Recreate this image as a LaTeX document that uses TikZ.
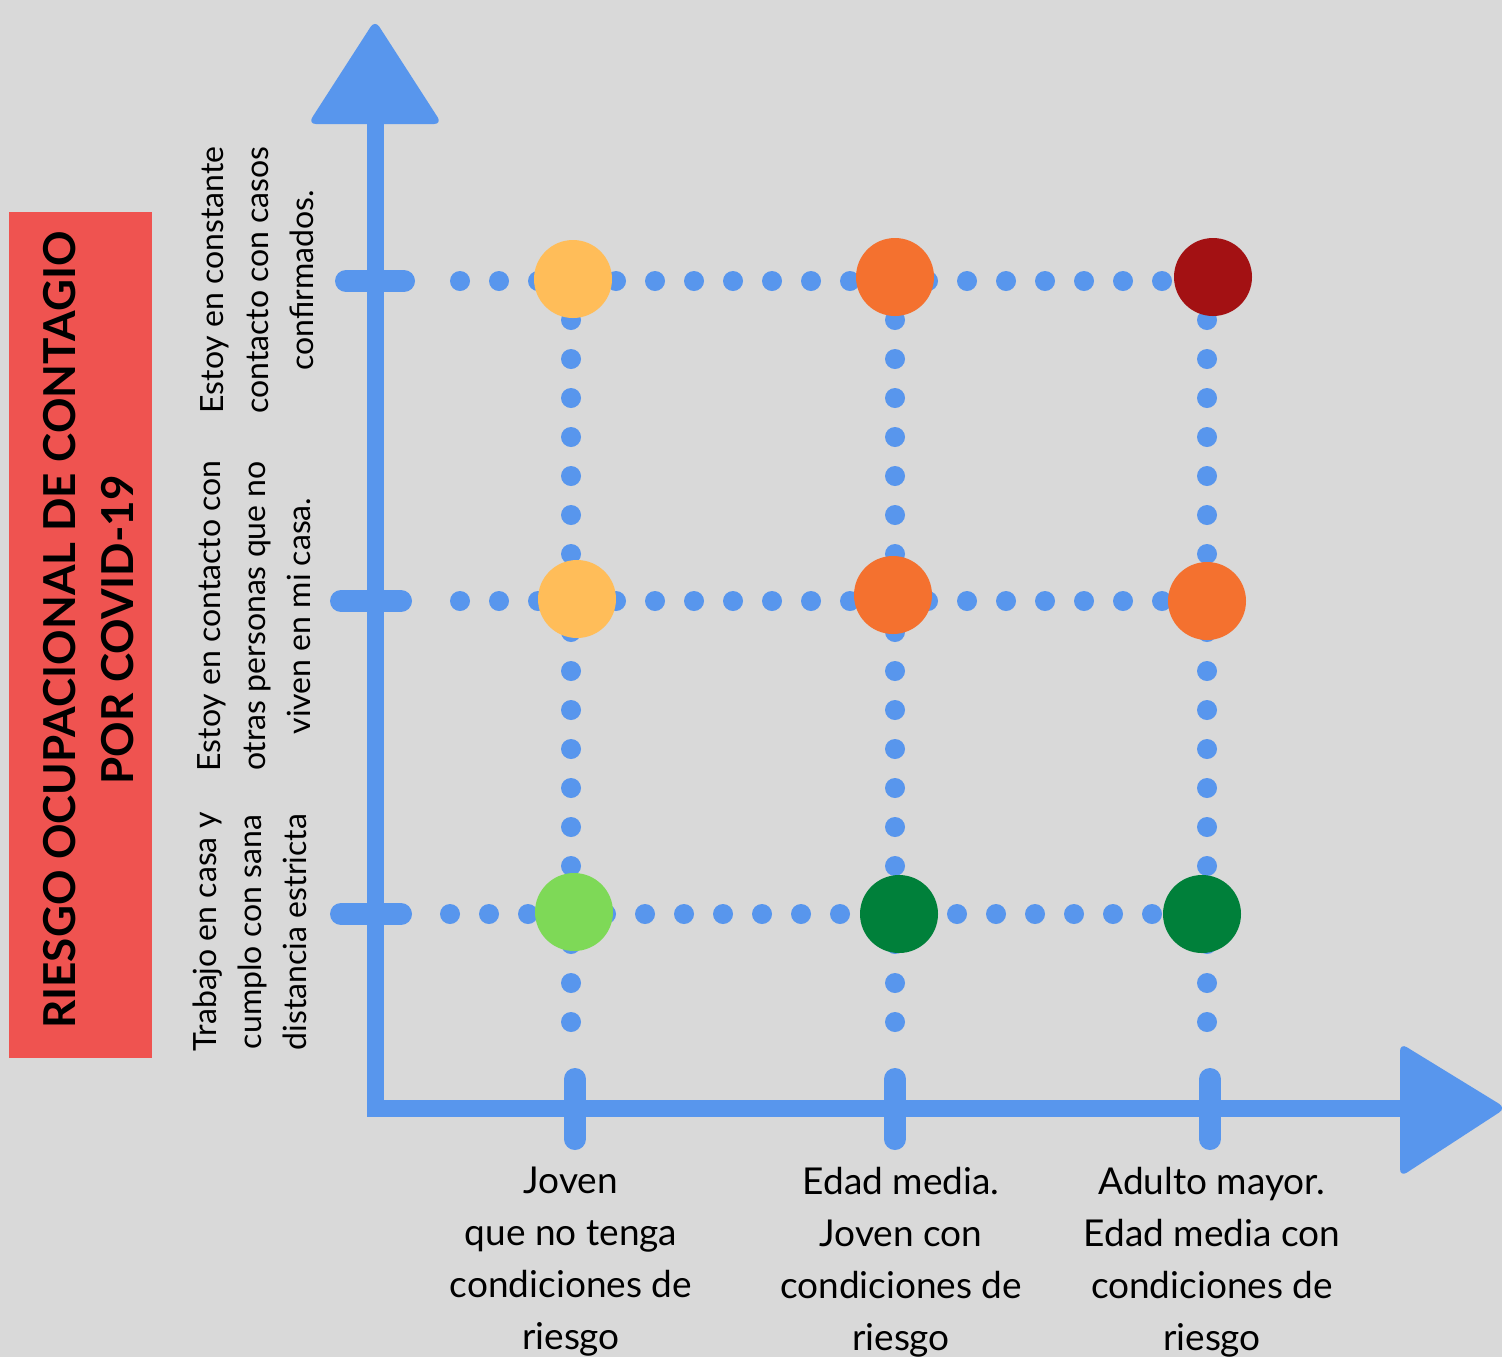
\documentclass[tikz,border=0pt]{standalone}
\usepackage{fontspec}
\setmainfont{Lato}
\usepackage{xcolor}
\usetikzlibrary{math}
\definecolor{bggray}{RGB}{217,217,217}
\definecolor{axisblue}{RGB}{88,150,237}
\definecolor{titlered}{RGB}{239,83,80}
\definecolor{riskyellow}{RGB}{255,189,89}
\definecolor{riskorange}{RGB}{244,113,47}
\definecolor{riskred}{RGB}{163,17,19}
\definecolor{risklime}{RGB}{126,217,87}
\definecolor{riskgreen}{RGB}{0,128,58}

\begin{document}
\begin{tikzpicture}[x=0.5pt,y=-0.5pt,
  blob/.style={circle, inner sep=0pt, minimum size=39pt},
  dots/.style={axisblue, line width=10pt, line cap=round, dash pattern=on 0pt off 19.5pt},
  axistick/.style={axisblue, line width=11pt, line cap=round},
  ylab/.style={rotate=90, align=center, font=\fontsize{16}{22.5}\selectfont},
  xlab/.style={anchor=north, align=center, font=\fontsize{18.5}{26}\selectfont}]
\tikzmath{
\xa=571; \xb=895; \xc=1207;
\ya=281; \yb=601; \yc=914;
\ybot=1030;
}
\fill[bggray] (0,0) rectangle (1502,1357);
\useasboundingbox (0,0) rectangle (1502,1357);

% title
\fill[titlered] (9,212) rectangle (152,1058);
\node[rotate=90, align=center, font=\fontsize{22}{29}\selectfont\bfseries] (title) at (89,630)
  {RIESGO OCUPACIONAL DE CONTAGIO\\POR COVID-19};

% axes
\coordinate (O) at (375,1108);
\coordinate (Ytop) at (375,122);
\coordinate (Xend) at (1404,1108);
\draw[axisblue, line width=8.5pt] (Ytop) -- (O) -- (Xend);
\fill[axisblue, rounded corners=4pt] (308,124) -- (375,20) -- (442,124) -- cycle;
\fill[axisblue, rounded corners=4pt] (1400,1043) -- (1506,1108) -- (1400,1177) -- cycle;

% ticks
\draw[axistick] (346,\ya) -- (404,\ya);
\draw[axistick] (341,\yb) -- (401,\yb);
\draw[axistick] (341,\yc) -- (401,\yc);
\draw[axistick] (575,1079) -- (575,1139);
\draw[axistick] (895,1079) -- (895,1139);
\draw[axistick] (1210,1079) -- (1210,1139);

% grid points
\coordinate (p11) at (\xa,\ya); \coordinate (p12) at (\xb,\ya); \coordinate (p13) at (\xc,\ya);
\coordinate (p21) at (\xa,\yb); \coordinate (p22) at (\xb,\yb); \coordinate (p23) at (\xc,\yb);
\coordinate (p31) at (\xa,\yc); \coordinate (p32) at (\xb,\yc); \coordinate (p33) at (\xc,\yc);
\coordinate (r1) at (460,\ya);
\coordinate (r2) at (460,\yb);
\coordinate (r3) at (450,\yc);
\coordinate (c1) at (\xa,\ybot);
\coordinate (c2) at (\xb,\ybot);
\coordinate (c3) at (\xc,\ybot);

\draw[dots] (r1) -- (p13);
\draw[dots] (r2) -- (p23);
\draw[dots] (r3) -- (p33);
\draw[dots] (p11) -- (c1);
\draw[dots] (p12) -- (c2);
\draw[dots] (p13) -- (c3);

% risk levels
\node[blob, fill=riskyellow] (b11) at ([xshift=1pt,yshift=1pt]p11) {};
\node[blob, fill=riskorange] (b12) at ([yshift=2pt]p12) {};
\node[blob, fill=riskred] (b13) at ([xshift=3pt,yshift=2pt]p13) {};
\node[blob, fill=riskyellow] (b21) at ([xshift=3pt,yshift=1pt]p21) {};
\node[blob, fill=riskorange] (b22) at ([xshift=-1pt,yshift=3pt]p22) {};
\node[blob, fill=riskorange] (b23) at (p23) {};
\node[blob, fill=risklime] (b31) at ([xshift=1.5pt,yshift=1pt]p31) {};
\node[blob, fill=riskgreen] (b32) at ([xshift=2pt]p32) {};
\node[blob, fill=riskgreen] (b33) at ([xshift=-2.5pt]p33) {};

% labels
\node[ylab] (lab1) at (257,280) {Estoy en constante\\contacto con casos\\confirmados.};
\node[ylab] (lab2) at (254,616) {Estoy en contacto con\\otras personas que no\\viven en mi casa.};
\node[ylab] (lab3) at (250,932) {Trabajo en casa y\\cumplo con sana\\distancia estricta};
\node[xlab] (joven) at (571,1160) {Joven\\que no tenga\\condiciones de\\riesgo};
\node[xlab] (media) at (901,1160) {Edad media.\\Joven con\\condiciones de\\riesgo};
\node[xlab] (adulto) at (1212,1160) {Adulto mayor.\\Edad media con\\condiciones de\\riesgo};
\end{tikzpicture}
\end{document}
